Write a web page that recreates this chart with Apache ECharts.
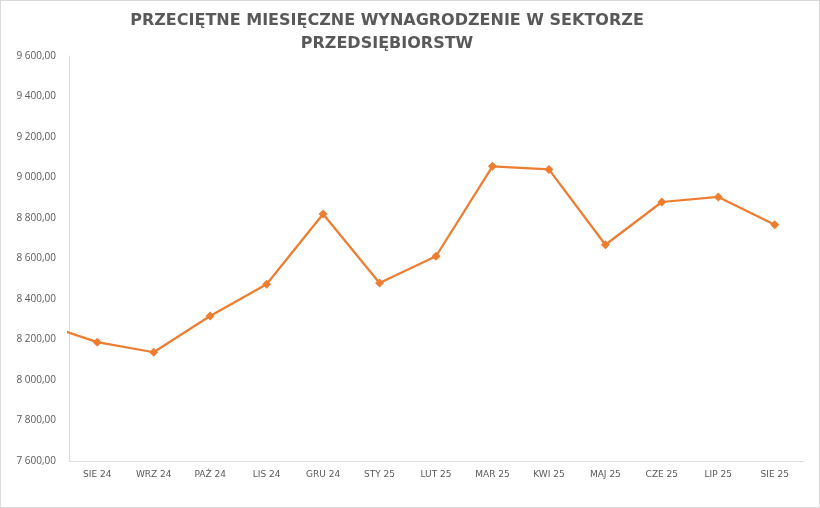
<!DOCTYPE html>
<html>
<head>
<meta charset="utf-8">
<script src="https://cdn.jsdelivr.net/npm/echarts@6/dist/echarts.min.js"></script>
<style>
html,body{margin:0;padding:0;background:#fff;}
#c{width:820px;height:508px;box-sizing:border-box;border:1px solid #d9d9d9;}
</style>
</head>
<body>
<div id="c"></div>
<script>
const categories = ['SIE 24','WRZ 24','PAŹ 24','LIS 24','GRU 24','STY 25','LUT 25','MAR 25','KWI 25','MAJ 25','CZE 25','LIP 25','SIE 25'];
const values = [8187, 8137, 8316, 8473, 8820, 8479, 8611, 9055, 9040, 8668, 8879, 8904, 8767];
// value of the month before the first category (only its connecting segment is visible)
const previousValue = 8280;
const yTicks = [7600, 7800, 8000, 8200, 8400, 8600, 8800, 9000, 9200, 9400, 9600];

const mainData = values.map((v, i) => [i, v]);
const leadData = [[-1, previousValue], [0, values[0]]];

function fmt(v) {
  const th = Math.floor(v / 1000);
  const rest = String(v % 1000).padStart(3, '0');
  return th + ' ' + rest + ',00';
}

const chart = echarts.init(document.getElementById('c'), null, {renderer: 'canvas'});
const color = '#ED7D31';
chart.setOption({
  animation: false,
  backgroundColor: '#ffffff',
  title: {
    text: 'PRZECIĘTNE MIESIĘCZNE WYNAGRODZENIE W SEKTORZE\nPRZEDSIĘBIORSTW',
    left: 381,
    top: 3,
    textAlign: 'center',
    textStyle: {
      fontFamily: 'DejaVu Sans',
      fontSize: 16,
      fontWeight: 'bold',
      color: '#595959',
      lineHeight: 23
    }
  },
  grid: {left: 68, right: 16, top: 55, bottom: 46, outerBoundsMode: 'none', containLabel: false},
  xAxis: {
    type: 'value',
    min: -0.5,
    max: categories.length - 0.5,
    splitLine: {show: false},
    axisTick: {show: false},
    axisLine: {show: true, onZero: false, lineStyle: {color: '#d9d9d9', width: 1}},
    axisLabel: {
      customValues: categories.map((c, i) => i),
      formatter: v => categories[Math.round(v)] || '',
      color: '#595959',
      fontFamily: 'DejaVu Sans',
      fontSize: 9,
      margin: 9
    }
  },
  yAxis: {
    type: 'value',
    min: 7600,
    max: 9600,
    interval: 200,
    splitLine: {show: false},
    axisTick: {show: false},
    axisLine: {show: true, onZero: false, lineStyle: {color: '#d9d9d9', width: 1}},
    axisLabel: {
      customValues: yTicks,
      formatter: v => fmt(v),
      color: '#595959',
      fontFamily: 'Open Sans',
      fontSize: 10,
      margin: 13
    }
  },
  series: [
    {
      type: 'line',
      data: leadData,
      showSymbol: false,
      symbol: 'none',
      clip: true,
      lineStyle: {color: color, width: 2.25},
      itemStyle: {color: color},
      silent: true
    },
    {
      type: 'line',
      data: mainData,
      symbol: 'diamond',
      symbolSize: 9,
      clip: true,
      lineStyle: {color: color, width: 2.25},
      itemStyle: {color: color}
    }
  ]
});
</script>
</body>
</html>
